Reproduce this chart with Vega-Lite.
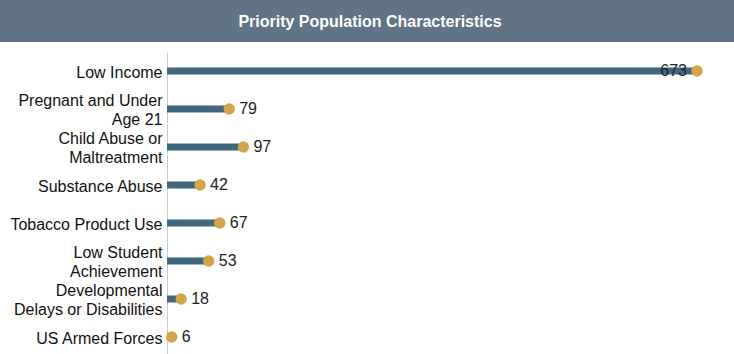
{
  "$schema": "https://vega.github.io/schema/vega-lite/v6.json",
  "padding": 0,
  "config": {
    "font": "Liberation Sans",
    "view": {"stroke": null}
  },
  "datasets": {
    "rows": [
      {"cat": "Low Income", "v": 673},
      {"cat": "Pregnant and Under|Age 21", "v": 79},
      {"cat": "Child Abuse or|Maltreatment", "v": 97},
      {"cat": "Substance Abuse", "v": 42},
      {"cat": "Tobacco Product Use", "v": 67},
      {"cat": "Low Student|Achievement", "v": 53},
      {"cat": "Developmental|Delays or Disabilities", "v": 18},
      {"cat": "US Armed Forces", "v": 6}
    ],
    "heading": [{"t": "Priority Population Characteristics"}]
  },
  "spacing": 10,
  "vconcat": [
    {
      "width": 734,
      "height": 42,
      "view": {"fill": "#607387", "stroke": null},
      "data": {"name": "heading"},
      "mark": {"type": "text", "color": "#ffffff", "fontSize": 16, "fontWeight": "bold", "baseline": "middle", "align": "center", "dy": 1, "dx": 3},
      "encoding": {"text": {"field": "t"}}
    },
    {
      "spacing": 4,
      "hconcat": [
        {
          "width": 162,
          "height": 304,
          "data": {"name": "rows"},
          "mark": {"type": "point", "opacity": 0},
          "encoding": {
            "y": {
              "field": "cat",
              "type": "nominal",
              "sort": null,
              "scale": {"paddingInner": 0, "paddingOuter": 0},
              "axis": {
                "orient": "right",
                "title": null,
                "ticks": false,
                "domain": false,
                "labelAlign": "right",
                "labelPadding": 0,
                "labelFontSize": 16,
                "labelColor": "#111111",
                "labelLimit": 300,
                "labelLineHeight": 19,
                "minExtent": 0,
                "labelOffset": {"condition": {"test": "indexof(datum.value, '|') >= 0", "value": -9}, "value": 1},
                "labelExpr": "split(datum.label, '|')"
              }
            }
          }
        },
        {
          "width": 567,
          "height": 304,
          "data": {"name": "rows"},
          "encoding": {
            "x": {"field": "v", "type": "quantitative", "scale": {"domain": [0, 720], "nice": false}, "axis": null},
            "y": {
              "field": "cat",
              "type": "nominal",
              "sort": null,
              "scale": {"paddingInner": 0, "paddingOuter": 0},
              "axis": {
                "title": null,
                "ticks": false,
                "labels": false,
                "domainColor": "#cccccc",
                "minExtent": 0
              }
            }
          },
          "layer": [
            {
              "mark": {"type": "bar", "size": 7, "color": "#3e6880"}
            },
            {
              "mark": {"type": "point", "filled": true, "size": 130, "opacity": 1, "color": "#d4a543"}
            },
            {
              "transform": [{"filter": "datum.v < 600"}],
              "mark": {"type": "text", "align": "left", "dx": 10, "fontSize": 16, "color": "#222222", "baseline": "middle"},
              "encoding": {
                "text": {"field": "v", "type": "quantitative"}
              }
            },
            {
              "transform": [{"filter": "datum.v >= 600"}],
              "mark": {"type": "text", "align": "right", "dx": -10, "fontSize": 16, "color": "#222222", "baseline": "middle"},
              "encoding": {
                "text": {"field": "v", "type": "quantitative"}
              }
            }
          ]
        }
      ]
    }
  ]
}
